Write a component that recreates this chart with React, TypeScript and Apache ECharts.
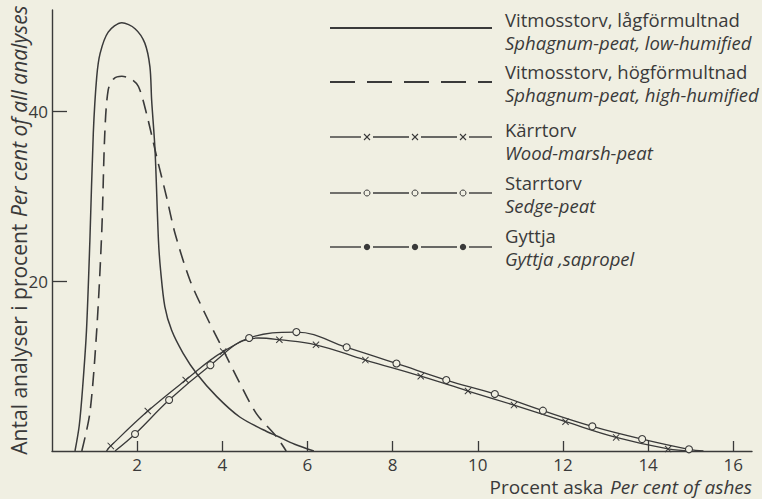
import React, { useEffect, useRef } from "react";
import * as echarts from "echarts";

// ---- data (x = per cent ash, y = per cent of analyses) ----
const lowHumified: [number, number][] = [
  [0.54, 0], [0.64, 3], [0.72, 7.5], [0.81, 14.2], [0.89, 24.8], [0.97, 37.4], [1.05, 44],
  [1.13, 46.8], [1.32, 49.3], [1.64, 50.4], [1.95, 49.7], [2.18, 48], [2.3, 45.2],
  [2.34, 41.3], [2.42, 35.4], [2.5, 24.8], [2.55, 21.3], [2.65, 17], [2.81, 14.2],
  [3.08, 11.5], [3.4, 9.1], [3.87, 6.4], [4.41, 4.0], [4.96, 2.5], [5.31, 1.7], [5.7, 0.8], [6.15, 0],
];
const highHumified: [number, number][] = [
  [0.7, 0], [0.89, 4.5], [1.05, 14.2], [1.17, 26], [1.24, 37.4], [1.32, 42.5], [1.45, 43.8],
  [1.64, 44.1], [1.85, 43.8], [2.03, 42.9], [2.22, 39.7], [2.46, 34.6], [2.69, 29.9],
  [2.89, 25.6], [3.24, 20.1], [3.63, 15.8], [4.02, 11.9], [4.41, 8], [4.8, 4.4], [5.27, 1.7], [5.5, 0],
];
// [x, y, marker?]
const woodMarsh: [number, number, number][] = [
  [1.28, 0, 0], [1.38, 0.6, 1], [2.25, 4.7, 1], [3.14, 8.35, 1], [4.02, 11.7, 1], [4.85, 13.3, 0],
  [5.34, 13.1, 1], [6.2, 12.5, 1], [7.36, 10.7, 1], [8.66, 8.8, 1], [9.77, 7.06, 1],
  [10.85, 5.4, 1], [12.06, 3.45, 1], [13.25, 1.6, 1], [14.47, 0.24, 1], [15.0, 0, 0],
];
const sedge: [number, number, number][] = [
  [1.48, 0, 0], [1.95, 2.0, 1], [2.75, 6.0, 1], [3.72, 10.1, 1], [4.63, 13.3, 1], [5.74, 14.0, 1],
  [6.92, 12.2, 1], [8.09, 10.3, 1], [9.26, 8.35, 1], [10.4, 6.7, 1], [11.53, 4.75, 1],
  [12.69, 2.9, 1], [13.86, 1.4, 1], [14.96, 0.2, 1], [15.3, 0, 0],
];
const xTicks = [2, 4, 6, 8, 10, 12, 14, 16];
const yTicks = [20, 40];

const legendItems = [
  { sw: "Vitmosstorv, lågförmultnad", en: "Sphagnum-peat, low-humified", kind: "solid" },
  { sw: "Vitmosstorv, högförmultnad", en: "Sphagnum-peat, high-humified", kind: "dashed" },
  { sw: "Kärrtorv", en: "Wood-marsh-peat", kind: "cross" },
  { sw: "Starrtorv", en: "Sedge-peat", kind: "circle" },
  { sw: "Gyttja", en: "Gyttja ,sapropel", kind: "dot" },
];

const BG = "#f0efe2";
const INK = "#3a3a3a";
const FONT = "'Open Sans', sans-serif";
const CROSS = "path://M0,1 L1,0 L5,4 L9,0 L10,1 L6,5 L10,9 L9,10 L5,6 L1,10 L0,9 L4,5 Z";

function buildLegend() {
  const els: any[] = [];
  const rowsY = [28, 82, 137, 193, 247];
  const sw1 = [19, 71, 129, 182, 235];
  const en1 = [42, 94, 152, 205, 258];
  const x1 = 330, x2 = 492;
  const mk = [367, 415, 463];
  legendItems.forEach((it, i) => {
    const y = rowsY[i];
    if (it.kind === "solid" || it.kind === "dashed") {
      els.push({
        type: "line",
        shape: { x1, y1: y, x2, y2: y },
        style: { stroke: INK, lineWidth: 1.8, lineDash: it.kind === "dashed" ? [25, 12] : null },
      });
    } else {
      const segs = [[x1, mk[0] - 6], [mk[0] + 6, mk[1] - 6], [mk[1] + 6, mk[2] - 6], [mk[2] + 6, x2]];
      segs.forEach(([a, b]) =>
        els.push({ type: "line", shape: { x1: a, y1: y, x2: b, y2: y }, style: { stroke: INK, lineWidth: 1.4 } })
      );
      mk.forEach((m) => {
        if (it.kind === "cross") {
          els.push({ type: "line", shape: { x1: m - 3, y1: y - 3, x2: m + 3, y2: y + 3 }, style: { stroke: INK, lineWidth: 1.1 } });
          els.push({ type: "line", shape: { x1: m + 3, y1: y - 3, x2: m - 3, y2: y + 3 }, style: { stroke: INK, lineWidth: 1.1 } });
        } else if (it.kind === "circle") {
          els.push({ type: "circle", shape: { cx: m, cy: y, r: 3 }, style: { fill: BG, stroke: INK, lineWidth: 1 } });
        } else {
          els.push({ type: "circle", shape: { cx: m, cy: y, r: 3.2 }, style: { fill: INK } });
        }
      });
    }
    els.push({
      type: "text", x: 505, y: sw1[i],
      style: { text: it.sw, fill: INK, font: `18.5px ${FONT}`, lineHeight: 20, verticalAlign: "middle", align: "left" },
    });
    els.push({
      type: "text", x: 505, y: en1[i],
      style: { text: it.en, fill: INK, font: `italic 18.5px ${FONT}`, lineHeight: 20, verticalAlign: "middle", align: "left" },
    });
  });
  return els;
}

export default function App() {
  const ref = useRef<HTMLDivElement>(null);
  useEffect(() => {
    document.body.style.margin = "0";
    document.body.style.background = BG;
    const chart = echarts.init(ref.current!, null, { renderer: "svg" });
    const markerSeries = (name: string, data: [number, number, number][], symbol: string, size: number, extra: any) => ({
      name,
      type: "line",
      smooth: 0.4,
      showSymbol: true,
      symbol,
      symbolSize: size,
      lineStyle: { color: INK, width: 1.3 },
      data: data.map(([x, y, m]) => (m ? { value: [x, y] } : { value: [x, y], symbol: "none" })),
      ...extra,
    });
    chart.setOption({
      animation: false,
      backgroundColor: BG,
      grid: { left: 52, top: 10, width: 700, height: 441, containLabel: false },
      xAxis: {
        type: "value",
        min: 0,
        max: 16.44,
        interval: 2,
        axisLine: { lineStyle: { color: INK, width: 1.4 } },
        axisTick: { inside: true, length: 10, customValues: xTicks, lineStyle: { color: INK, width: 1.3 } },
        axisLabel: { customValues: xTicks, color: INK, fontSize: 17, fontFamily: FONT, margin: 5, lineHeight: 17 },
        splitLine: { show: false },
      },
      yAxis: {
        type: "value",
        min: 0,
        max: 51.9,
        interval: 20,
        axisLine: { show: true, lineStyle: { color: INK, width: 1.4 } },
        axisTick: { show: true, inside: true, length: 15, customValues: yTicks, lineStyle: { color: INK, width: 1.3 } },
        axisLabel: { customValues: yTicks, color: INK, fontSize: 17, fontFamily: FONT, margin: 4 },
        splitLine: { show: false },
      },
      series: [
        {
          name: "Sphagnum-peat, low-humified",
          type: "line",
          smooth: 0.3,
          showSymbol: false,
          lineStyle: { color: INK, width: 1.5 },
          data: lowHumified,
        },
        {
          name: "Sphagnum-peat, high-humified",
          type: "line",
          smooth: 0.3,
          showSymbol: false,
          lineStyle: { color: INK, width: 1.6, type: [14, 8] },
          data: highHumified,
        },
        markerSeries("Wood-marsh-peat", woodMarsh, CROSS, 7, { itemStyle: { color: INK } }),
        markerSeries("Sedge-peat", sedge, "circle", 7, { itemStyle: { color: BG, borderColor: INK, borderWidth: 1.1 } }),
      ],
      graphic: [
        ...buildLegend(),
        {
          type: "text", x: 19, y: 230, rotation: Math.PI / 2,
          style: {
            text: "{a|Antal analyser i procent}  {b|Per cent of all analyses}",
            fill: INK, align: "center", verticalAlign: "middle",
            rich: {
              a: { font: `21px ${FONT}`, fill: INK },
              b: { font: `italic 21px ${FONT}`, fill: INK },
            },
          },
        },
        {
          type: "text", x: 752, y: 487,
          style: {
            text: "{a|Procent aska}  {b|Per cent of ashes}",
            fill: INK, align: "right", verticalAlign: "middle",
            rich: {
              a: { font: `19px ${FONT}`, fill: INK, lineHeight: 19 },
              b: { font: `italic 19px ${FONT}`, fill: INK, lineHeight: 19 },
            },
          },
        },
      ],
    });
    return () => chart.dispose();
  }, []);
  return <div ref={ref} style={{ position: "fixed", left: 0, top: 0, width: 762, height: 499 }} />;
}
